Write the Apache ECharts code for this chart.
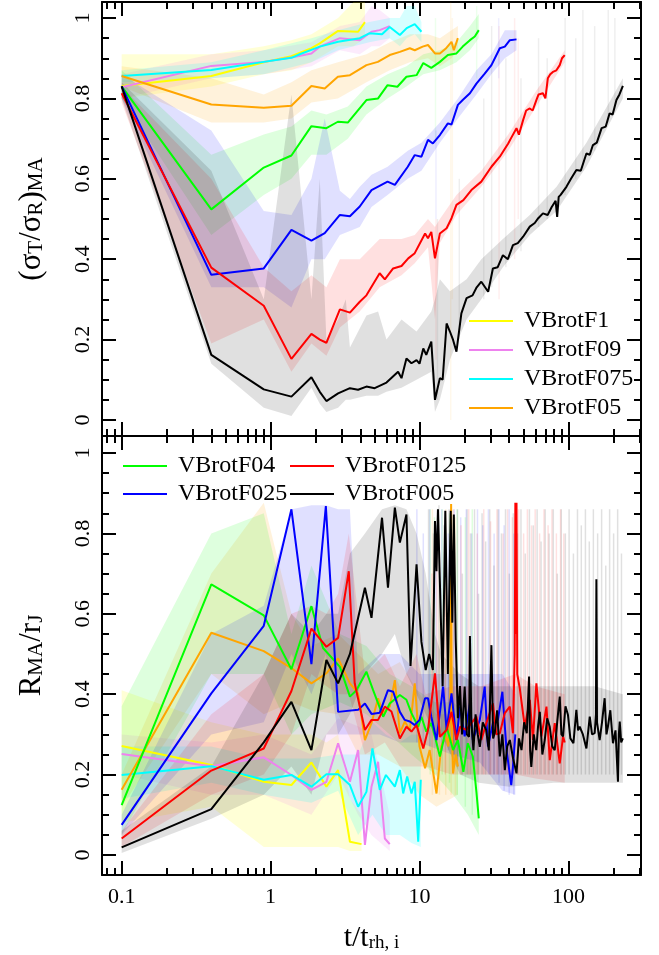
<!DOCTYPE html>
<html>
<head>
<meta charset="utf-8">
<script src="https://cdn.jsdelivr.net/npm/echarts@6/dist/echarts.min.js"></script>
<style>
  html, body { margin: 0; padding: 0; background: #fff; }
  #chart { width: 659px; height: 955px; }
</style>
</head>
<body>
<div id="chart"></div>
<script>
// x ticks (t / t_rh,i), log axis
var X_MAJOR = [0.1, 1, 10, 100];
var X_MINOR = [0.08, 0.09, 0.2, 0.3, 0.4, 0.5, 0.6, 0.7, 0.8, 0.9, 2, 3, 4, 5, 6, 7, 8, 9,
               20, 30, 40, 50, 60, 70, 80, 90, 200, 300];
var Y_MAJOR = [0, 0.2, 0.4, 0.6, 0.8, 1];
var Y_MINOR = [0.05, 0.1, 0.15, 0.25, 0.3, 0.35, 0.45, 0.5, 0.55, 0.65, 0.7, 0.75, 0.85, 0.9, 0.95];

// ---- top panel: (sigma_T/sigma_R)_MA   lines [t, value]; bands [t, lo, hi]; streaks [t, lo, hi]
var F1_S = [[0.1,0.831],[0.4,0.856],[0.9,0.89],[1.38,0.905],[1.88,0.925],[2.14,0.937],[2.84,0.968],[3.87,0.966],[4.3,0.99]];
var F1_S_band = [[0.1,0.80,0.91],[0.4,0.83,0.91],[0.9,0.86,0.93],[1.38,0.87,0.945],[1.88,0.89,0.96],[2.84,0.93,1.0],[3.6,0.93,1.04],[4.3,0.95,1.04]];

var F09_S = [[0.1,0.828],[0.4,0.881],[0.9,0.891],[1.38,0.902],[1.88,0.912],[2.14,0.929],[2.92,0.95],[3.97,0.945],[4.76,0.966],[5.4,0.97],[6.31,0.98]];
var F09_S_band = [[0.1,0.8,0.86],[0.4,0.85,0.91],[0.9,0.86,0.92],[1.88,0.88,0.94],[2.92,0.92,0.98],[3.97,0.91,0.99],[4.76,0.93,1.03],[5.4,0.93,1.02],[6.31,0.95,1.0]];

var F075_S = [[0.1,0.856],[0.4,0.871],[0.9,0.891],[1.38,0.901],[1.57,0.91],[2.14,0.929],[2.84,0.941],[3.97,0.95],[4.6,0.962],[5.6,0.96],[6.31,0.978],[7.38,0.958],[8.2,0.975],[9.29,0.985],[10.3,0.966]];
var F075_S_band = [[0.1,0.84,0.87],[0.4,0.85,0.89],[0.9,0.86,0.92],[1.88,0.89,0.95],[2.84,0.92,0.97],[4.6,0.94,0.99],[6.31,0.95,1.0],[7.38,0.93,1.0],[8.2,0.95,1.03],[9.29,0.96,1.03],[10.3,0.94,0.99]];

var F05_S = [[0.1,0.856],[0.4,0.785],[0.9,0.777],[1.38,0.782],[1.88,0.831],[2.31,0.825],[2.83,0.854],[3.41,0.858],[4.4,0.883],[5.25,0.891],[6.31,0.908],[7.38,0.916],[8.61,0.925],[9.29,0.92],[10.5,0.929],[11.4,0.933],[12.7,0.912],[13.7,0.912],[15.1,0.925],[16.4,0.941],[17.0,0.92],[18.1,0.95]];
var F05_S_band = [[0.1,0.83,0.88],[0.4,0.74,0.85],[0.9,0.74,0.81],[1.38,0.75,0.84],[1.88,0.79,0.87],[2.83,0.8,0.89],[4.4,0.84,0.91],[6.31,0.87,0.94],[8.61,0.89,0.96],[11.4,0.9,0.96],[13.7,0.88,0.95],[16.4,0.9,0.97],[18.1,0.92,0.98]];
var F05_S_streaks = [[16.2,0.0,1.04],[16.6,0.3,1.0]];

var F04_S = [[0.1,0.83],[0.4,0.524],[0.9,0.628],[1.38,0.658],[1.88,0.731],[2.37,0.726],[2.83,0.742],[3.3,0.74],[4.4,0.796],[5.27,0.8],[6.1,0.833],[7.1,0.829],[8.17,0.854],[9.55,0.858],[10.6,0.888],[12.0,0.876],[13.7,0.891],[15.5,0.908],[17.7,0.912],[19.5,0.929],[21.8,0.945],[23.5,0.954],[25,0.97]];
var F04_S_band = [[0.1,0.8,0.87],[0.4,0.46,0.66],[0.9,0.56,0.71],[1.38,0.6,0.73],[1.88,0.66,0.77],[2.37,0.66,0.76],[3.3,0.7,0.78],[4.4,0.76,0.83],[6.1,0.8,0.86],[8.17,0.83,0.88],[10.6,0.86,0.91],[13.7,0.87,0.92],[17.7,0.89,0.94],[21.8,0.92,0.98],[25,0.95,1.01]];
var F04_S_streaks = [[12.8,0.7,1.0],[24.2,0.85,1.03]];

var F025_S = [[0.1,0.83],[0.4,0.361],[0.9,0.377],[1.38,0.473],[1.88,0.446],[2.31,0.465],[2.92,0.51],[3.41,0.507],[3.97,0.531],[4.76,0.572],[5.55,0.585],[6.1,0.593],[6.83,0.585],[8.34,0.63],[9.29,0.659],[10.3,0.655],[11.4,0.697],[12.3,0.688],[13.7,0.709],[15.5,0.738],[16.4,0.735],[18.1,0.784],[19.5,0.796],[21.8,0.813],[24.1,0.837],[27.4,0.862],[30.4,0.883],[34.6,0.925],[37.4,0.929],[40.4,0.945],[44.8,0.947]];
var F025_S_band = [[0.1,0.8,0.86],[0.4,0.33,0.72],[0.9,0.33,0.52],[1.38,0.28,0.51],[1.88,0.4,0.6],[2.31,0.4,0.75],[2.92,0.46,0.57],[3.41,0.47,0.55],[3.97,0.48,0.58],[4.76,0.53,0.61],[6.1,0.56,0.63],[8.34,0.6,0.67],[10.3,0.62,0.69],[13.7,0.69,0.74],[18.1,0.75,0.8],[24.1,0.81,0.87],[30.4,0.86,0.91],[37.4,0.9,0.97],[44.8,0.92,0.97]];
var F025_S_streaks = [[12.9,0.5,0.72],[34.0,0.85,1.0]];

var F0125_S = [[0.1,0.813],[0.4,0.379],[0.9,0.284],[1.38,0.152],[1.88,0.214],[2.14,0.2],[2.37,0.192],[2.92,0.275],[3.41,0.267],[3.97,0.294],[4.4,0.31],[5.4,0.365],[5.85,0.35],[6.65,0.377],[7.57,0.383],[8.4,0.402],[9.29,0.415],[10.9,0.464],[11.4,0.452],[12.0,0.468],[12.7,0.402],[13.7,0.464],[15.2,0.477],[16.4,0.502],[17.7,0.535],[19.7,0.547],[22.3,0.572],[26.0,0.593],[30.4,0.63],[34.6,0.655],[39.4,0.688],[41,0.70],[44.8,0.726],[46.5,0.71],[49.6,0.746],[52,0.77],[55,0.775],[57.5,0.77],[60.9,0.796],[63,0.81],[67.4,0.813],[70,0.80],[72.7,0.85],[75.5,0.86],[78.6,0.866],[83,0.87],[87.4,0.883],[90.5,0.9],[94.4,0.908]];
var F0125_S_band = [[0.1,0.79,0.83],[0.4,0.19,0.6],[0.9,0.25,0.38],[1.38,0.12,0.32],[1.88,0.19,0.36],[2.37,0.16,0.33],[2.92,0.23,0.4],[3.97,0.27,0.4],[5.4,0.33,0.45],[7.57,0.36,0.45],[9.29,0.39,0.46],[11.4,0.43,0.5],[12.7,0.25,0.48],[13.7,0.44,0.5],[17.7,0.51,0.56],[26,0.58,0.62],[39.4,0.67,0.71],[60.9,0.78,0.82],[94.4,0.89,0.92]];
var F0125_S_streaks = [[12.9,0.15,0.5],[34.2,0.3,0.98],[43.5,0.4,1.0],[46.0,0.5,0.95]];

var F005_S = [[0.1,0.83],[0.4,0.162],[0.9,0.076],[1.38,0.058],[1.88,0.106],[2.14,0.07],[2.37,0.047],[2.84,0.066],[3.41,0.079],[3.87,0.075],[4.4,0.083],[5.0,0.079],[6.0,0.093],[7.18,0.12],[7.57,0.104],[8.17,0.153],[8.83,0.141],[9.55,0.149],[10.0,0.14],[10.6,0.178],[11.1,0.162],[12.0,0.195],[12.7,0.05],[13.7,0.104],[14.3,0.1],[15.2,0.24],[16.0,0.22],[16.8,0.199],[17.7,0.17],[19.1,0.265],[20.7,0.303],[22.7,0.31],[24.2,0.33],[26.0,0.344],[28.9,0.319],[31.1,0.377],[33.5,0.38],[36.3,0.41],[39.2,0.40],[42.4,0.435],[45.7,0.44],[49.6,0.456],[55,0.481],[59.4,0.49],[62.7,0.502],[67.4,0.514],[72.5,0.51],[77.2,0.53],[82,0.545],[84,0.505],[86,0.555],[88.6,0.56],[96.9,0.58],[104,0.6],[113,0.622],[121,0.62],[132,0.663],[139,0.66],[146,0.684],[155,0.69],[167,0.726],[178,0.73],[189,0.763],[198,0.76],[210,0.796],[220,0.81],[232,0.831]];
var F005_S_band = [[0.1,0.8,0.84],[0.4,0.14,0.62],[0.9,0.03,0.3],[1.38,0.01,0.81],[1.88,0.08,0.3],[2.14,0.04,0.6],[2.37,0.02,0.2],[2.84,0.03,0.25],[3.2,0.05,0.3],[3.41,0.05,0.18],[4.4,0.06,0.26],[5.27,0.06,0.27],[6.0,0.07,0.2],[7.57,0.08,0.25],[9.55,0.1,0.22],[12.0,0.12,0.27],[12.7,0.02,0.3],[13.7,0.05,0.35],[16,0.15,0.32],[20.7,0.25,0.35],[26,0.3,0.4],[36.3,0.38,0.45],[55,0.46,0.51],[83.2,0.52,0.58],[132,0.63,0.69],[232,0.8,0.85]];
var F005_S_streaks = [[13.2,0.05,0.5],[18.5,0.2,0.6],[27,0.3,0.8],[30.5,0.33,0.98],[38,0.38,0.9],[48,0.42,0.85],[63,0.48,0.95],[72,0.5,0.9],[95,0.56,1.0],[112,0.6,0.95],[125,0.62,1.02],[150,0.67,0.98],[185,0.74,1.02],[205,0.77,1.0]];

// ---- bottom panel: R_MA / r_J
var F1_R = [[0.1,0.271],[0.4,0.224],[0.9,0.182],[1.38,0.174],[1.88,0.23],[2.37,0.17],[2.84,0.211],[3.41,0.033],[4.08,0.027]];
var F1_R_band = [[0.1,0.08,0.41],[0.4,0.12,0.33],[0.9,0.02,0.3],[1.38,0.02,0.3],[1.88,0.02,0.3],[2.37,0.02,0.28],[2.84,0.02,0.3],[3.41,0.01,0.14],[4.08,0.01,0.1]];

var F09_R = [[0.1,0.251],[0.4,0.221],[0.9,0.243],[1.38,0.199],[1.88,0.162],[2.37,0.182],[2.84,0.278],[3.41,0.182],[3.87,0.261],[4.3,0.025],[4.76,0.17],[5.27,0.232],[5.85,0.041],[6.31,0.027]];
var F09_R_band = [[0.1,0.2,0.3],[0.4,0.15,0.28],[0.9,0.15,0.3],[1.88,0.1,0.25],[2.84,0.2,0.34],[3.87,0.1,0.32],[4.76,0.05,0.3],[6.31,0.01,0.1]];

var F075_R = [[0.1,0.199],[0.4,0.221],[0.9,0.187],[1.38,0.199],[1.88,0.17],[2.37,0.201],[2.84,0.201],[3.41,0.174],[3.87,0.12],[4.4,0.157],[4.83,0.265],[5.41,0.162],[5.95,0.199],[6.83,0.17],[7.38,0.211],[7.77,0.153],[8.26,0.195],[8.83,0.153],[9.29,0.182],[9.8,0.033],[10.2,0.187]];
var F075_R_band = [[0.1,0.14,0.27],[0.4,0.18,0.27],[0.9,0.15,0.24],[1.88,0.13,0.24],[2.84,0.16,0.25],[3.87,0.05,0.25],[4.83,0.1,0.33],[5.95,0.05,0.3],[7.38,0.05,0.28],[8.83,0.03,0.3],[10.2,0.02,0.3]];

var F05_R = [[0.1,0.162],[0.4,0.553],[0.9,0.507],[1.38,0.465],[1.88,0.427],[2.37,0.452],[2.84,0.489],[3.41,0.427],[3.87,0.402],[4.3,0.286],[4.76,0.328],[5.27,0.39],[5.7,0.353],[6.31,0.369],[6.83,0.435],[7.38,0.303],[7.96,0.332],[8.61,0.311],[9.29,0.427],[10.0,0.27],[10.9,0.216],[11.7,0.261],[13.0,0.153],[14.0,0.27],[15.0,0.3],[15.6,0.27],[16.1,0.35],[16.3,0.873],[16.5,0.3],[16.8,0.203],[17.5,0.25],[18.1,0.22]];
var F05_R_band = [[0.1,0.12,0.2],[0.4,0.45,0.7],[0.9,0.35,0.876],[1.38,0.38,0.6],[1.88,0.36,0.52],[2.84,0.35,0.55],[3.87,0.25,0.5],[5.27,0.25,0.45],[7.38,0.22,0.48],[10,0.15,0.4],[13,0.12,0.35],[18.1,0.15,0.35]];
var F05_R_streaks = [[12.2,0.15,0.86],[13.6,0.15,0.8],[15.0,0.15,0.86],[16.3,0.15,0.87],[17.4,0.15,0.84]];

var F04_R = [[0.1,0.124],[0.4,0.673],[0.9,0.596],[1.38,0.462],[1.88,0.619],[2.25,0.515],[2.92,0.468],[3.41,0.394],[3.77,0.41],[4.4,0.456],[4.88,0.41],[5.7,0.344],[6.31,0.377],[7.38,0.398],[8.17,0.386],[8.83,0.353],[9.8,0.319],[10.3,0.344],[11.1,0.307],[12.0,0.328],[12.7,0.294],[13.7,0.245],[15.2,0.319],[16.8,0.261],[18.1,0.286],[19.7,0.207],[21.1,0.278],[22.8,0.245],[24.1,0.157],[25,0.091]];
var F04_R_band = [[0.1,0.05,0.37],[0.4,0.45,0.8],[0.9,0.45,0.85],[1.38,0.3,0.55],[1.88,0.35,0.72],[2.92,0.38,0.55],[4.4,0.35,0.52],[6.31,0.3,0.45],[8.83,0.25,0.42],[12.7,0.2,0.38],[16.8,0.15,0.38],[21.1,0.1,0.35],[25,0.05,0.3]];
var F04_R_streaks = [[11.8,0.2,0.86],[12.6,0.2,0.84],[14.2,0.2,0.86],[15.9,0.18,0.85],[17.9,0.15,0.86],[20.3,0.12,0.84],[22.6,0.1,0.86]];

var F025_R = [[0.1,0.075],[0.4,0.402],[0.9,0.57],[1.38,0.86],[1.88,0.475],[2.35,0.868],[2.84,0.356],[3.87,0.361],[4.3,0.377],[4.76,0.351],[5.41,0.354],[6.14,0.41],[6.66,0.406],[7.38,0.356],[7.96,0.336],[8.61,0.332],[9.29,0.323],[10.0,0.336],[10.9,0.39],[11.4,0.39],[12.0,0.344],[13.0,0.286],[14.4,0.419],[15.2,0.311],[16.4,0.402],[17.7,0.286],[18.7,0.369],[20.1,0.295],[21.8,0.378],[22.8,0.286],[25.4,0.336],[27.4,0.419],[28.8,0.27],[31.1,0.328],[33.6,0.336],[36.0,0.406],[38.4,0.261],[41.3,0.174],[42.4,0.22],[44,0.3]];
var F025_R_band = [[0.1,0.05,0.1],[0.4,0.3,0.55],[0.9,0.33,0.62],[1.38,0.5,0.86],[1.88,0.4,0.87],[2.35,0.5,0.87],[2.84,0.3,0.86],[3.41,0.3,0.86],[3.87,0.3,0.45],[5.41,0.3,0.5],[7.38,0.28,0.5],[10,0.28,0.45],[16.4,0.25,0.45],[25.4,0.23,0.45],[36,0.16,0.45],[44,0.15,0.4]];
var F025_R_streaks = [[9.6,0.28,0.86],[10.6,0.28,0.8],[11.7,0.27,0.86],[12.9,0.27,0.82],[14.1,0.26,0.86],[15.6,0.26,0.8],[17.1,0.25,0.86],[18.9,0.25,0.84],[20.6,0.25,0.86],[22.4,0.24,0.8],[24.5,0.23,0.86],[26.6,0.22,0.82],[29.0,0.2,0.86],[31.7,0.2,0.8],[34.2,0.18,0.86],[37.0,0.16,0.82],[40.0,0.15,0.86],[43.0,0.15,0.8]];

var F0125_R = [[0.1,0.041],[0.4,0.21],[0.9,0.265],[1.38,0.408],[1.88,0.563],[2.37,0.518],[2.84,0.54],[3.35,0.706],[3.67,0.427],[4.3,0.311],[4.76,0.336],[5.27,0.336],[5.85,0.369],[6.48,0.357],[7.38,0.29],[8.17,0.319],[8.83,0.307],[9.55,0.323],[10.6,0.265],[11.4,0.311],[12.7,0.452],[13.7,0.294],[15.2,0.311],[16.4,0.356],[17.7,0.286],[18.7,0.319],[20.6,0.311],[22.3,0.328],[24.1,0.344],[26.0,0.286],[28.1,0.328],[31.1,0.377],[32.8,0.3],[34.6,0.303],[37.4,0.353],[40.4,0.369],[42.4,0.303],[43.6,0.5],[44.0,0.876],[44.4,0.55],[44.8,0.876],[45.3,0.45],[47.1,0.415],[50.9,0.319],[55.0,0.386],[57.8,0.286],[60.9,0.427],[65.8,0.295],[71.2,0.369],[74.9,0.236],[80.9,0.328],[87.4,0.228],[92.0,0.295],[94.4,0.28]];
var F0125_R_band = [[0.1,0.02,0.06],[0.4,0.15,0.35],[0.9,0.2,0.45],[1.38,0.3,0.6],[1.88,0.45,0.62],[2.37,0.42,0.6],[2.84,0.4,0.65],[3.35,0.4,0.8],[4.3,0.25,0.45],[5.85,0.28,0.5],[7.38,0.22,0.42],[9.55,0.22,0.5],[11,0.22,0.4],[16.4,0.2,0.42],[26,0.2,0.42],[44,0.2,0.45],[60,0.19,0.42],[94.4,0.18,0.4]];
var F0125_R_streaks = [[12.1,0.22,0.7],[13.1,0.2,0.8],[14.9,0.2,0.84],[16.9,0.2,0.86],[19.0,0.2,0.82],[21.4,0.2,0.86],[24.4,0.2,0.8],[27.0,0.2,0.86],[30.0,0.2,0.83],[33.1,0.2,0.86],[36.4,0.2,0.8],[39.0,0.2,0.86],[42.0,0.2,0.84],[46.3,0.2,0.86],[50.0,0.2,0.8],[53.0,0.2,0.86],[56.5,0.2,0.82],[59.8,0.2,0.86],[64.0,0.2,0.8],[68.5,0.2,0.86],[73.0,0.2,0.82],[77.5,0.2,0.86],[83.0,0.2,0.8],[88.5,0.2,0.86],[93.0,0.2,0.8]];

var F005_R = [[0.1,0.019],[0.4,0.114],[0.9,0.28],[1.38,0.381],[1.88,0.261],[2.37,0.485],[2.84,0.427],[3.41,0.5],[4.3,0.665],[4.76,0.59],[5.6,0.839],[6.14,0.665],[6.83,0.864],[7.38,0.777],[8.17,0.847],[8.7,0.47],[9.55,0.723],[10.3,0.53],[11.0,0.46],[11.6,0.5],[12.3,0.46],[12.7,0.831],[13.0,0.706],[13.3,0.86],[13.7,0.86],[14.3,0.42],[14.9,0.856],[15.5,0.45],[16.2,0.856],[16.6,0.578],[17.0,0.847],[17.5,0.537],[18.1,0.34],[18.7,0.42],[19.3,0.3],[20.1,0.419],[20.8,0.3],[21.5,0.294],[21.8,0.545],[22.3,0.33],[23.0,0.261],[23.8,0.35],[24.6,0.3],[25.4,0.269],[26.6,0.33],[28.0,0.311],[29.2,0.26],[30.4,0.522],[31.2,0.29],[32.0,0.303],[33.2,0.36],[34.6,0.245],[36.0,0.3],[37.4,0.211],[38.8,0.27],[40.4,0.286],[42.5,0.24],[44.8,0.203],[46.5,0.29],[48.4,0.261],[50.4,0.33],[52.5,0.303],[54.4,0.444],[55.3,0.26],[56.3,0.219],[58.5,0.3],[60.8,0.261],[62.5,0.32],[64.2,0.356],[66.8,0.25],[69.3,0.286],[72,0.34],[74.9,0.319],[77.8,0.27],[80.9,0.261],[84,0.33],[87.4,0.394],[89.7,0.3],[92.0,0.295],[95.5,0.37],[99.3,0.348],[103,0.29],[108,0.278],[113,0.361],[116,0.31],[119,0.319],[125,0.3],[132,0.265],[139,0.344],[144,0.3],[150,0.303],[153,0.35],[154,0.686],[155.5,0.33],[162,0.286],[168,0.33],[175,0.39],[180,0.3],[184,0.319],[191,0.36],[199,0.278],[207,0.31],[215,0.182],[218,0.3],[221,0.332],[226,0.28],[232,0.29]];
var F005_R_band = [[0.1,0.005,0.06],[0.4,0.09,0.22],[0.9,0.15,0.45],[1.38,0.22,0.6],[1.88,0.15,0.55],[2.37,0.3,0.6],[2.84,0.3,0.6],[3.41,0.35,0.75],[4.3,0.45,0.8],[5.6,0.5,0.86],[6.83,0.55,0.87],[8.17,0.45,0.86],[9.55,0.4,0.8],[11,0.35,0.7],[12.7,0.3,0.55],[14,0.3,0.5],[18.7,0.2,0.45],[25,0.18,0.42],[40,0.17,0.42],[80,0.18,0.42],[150,0.18,0.42],[232,0.18,0.4]];
var F005_R_streaks = [[11.5,0.3,0.86],[12.4,0.3,0.8],[13.5,0.3,0.87],[14.6,0.28,0.82],[15.8,0.28,0.86],[16.9,0.25,0.75],[18.0,0.22,0.86],[19.4,0.2,0.7],[20.9,0.2,0.86],[22.0,0.2,0.8],[23.4,0.2,0.86],[24.9,0.2,0.65],[26.3,0.2,0.85],[27.8,0.2,0.78],[29.6,0.2,0.86],[31.6,0.2,0.72],[33.7,0.2,0.86],[35.5,0.2,0.8],[37.8,0.2,0.86],[40.1,0.2,0.7],[42.6,0.2,0.85],[45.5,0.2,0.8],[48.0,0.2,0.86],[51.3,0.2,0.75],[54.7,0.2,0.86],[58.1,0.2,0.82],[61.6,0.2,0.86],[65.5,0.2,0.78],[69.8,0.2,0.86],[74.2,0.2,0.8],[79.1,0.2,0.86],[84.2,0.2,0.7],[89.5,0.2,0.86],[95.3,0.2,0.8],[101,0.2,0.86],[108,0.2,0.75],[115,0.2,0.86],[122,0.2,0.82],[130,0.2,0.86],[138,0.2,0.78],[147,0.2,0.86],[157,0.2,0.8],[167,0.2,0.86],[178,0.2,0.72],[189,0.2,0.86],[201,0.2,0.8],[214,0.2,0.86],[227,0.2,0.75]];

var RUNS = [
  { name: 'VBrotF1',    color: '#ffff00', band: 'rgba(255,255,0,0.16)',   top: F1_S,    topBand: F1_S_band,    bot: F1_R,    botBand: F1_R_band },
  { name: 'VBrotF09',   color: '#ee82ee', band: 'rgba(238,130,238,0.16)', top: F09_S,   topBand: F09_S_band,   bot: F09_R,   botBand: F09_R_band },
  { name: 'VBrotF075',  color: '#00ffff', band: 'rgba(0,255,255,0.16)',   top: F075_S,  topBand: F075_S_band,  bot: F075_R,  botBand: F075_R_band },
  { name: 'VBrotF05',   color: '#ffa500', band: 'rgba(255,165,0,0.14)',   top: F05_S,   topBand: F05_S_band,   bot: F05_R,   botBand: F05_R_band,
    topStreaks: F05_S_streaks, botStreaks: F05_R_streaks },
  { name: 'VBrotF04',   color: '#00ff00', band: 'rgba(0,255,0,0.13)',     top: F04_S,   topBand: F04_S_band,   bot: F04_R,   botBand: F04_R_band,
    topStreaks: F04_S_streaks, botStreaks: F04_R_streaks },
  { name: 'VBrotF025',  color: '#0000ff', band: 'rgba(0,0,255,0.12)',     top: F025_S,  topBand: F025_S_band,  bot: F025_R,  botBand: F025_R_band,
    topStreaks: F025_S_streaks, botStreaks: F025_R_streaks },
  { name: 'VBrotF0125', color: '#ff0000', band: 'rgba(255,0,0,0.12)',     top: F0125_S, topBand: F0125_S_band, bot: F0125_R, botBand: F0125_R_band,
    topStreaks: F0125_S_streaks, botStreaks: F0125_R_streaks },
  { name: 'VBrotF005',  color: '#000000', band: 'rgba(0,0,0,0.12)',       top: F005_S,  topBand: F005_S_band,  bot: F005_R,  botBand: F005_R_band,
    topStreaks: F005_S_streaks, botStreaks: F005_R_streaks }
];

var FONT = 'Liberation Serif';
var LOGMIN = Math.log10(0.0738), LOGMAX = Math.log10(307);
var lg = function (v) { return Math.log10(v); };

function nameStyle(size, sub) {
  return { fontSize: size, fontFamily: FONT, color: '#000',
    rich: { s: { fontSize: sub, fontFamily: FONT, color: '#000', verticalAlign: 'bottom' } } };
}

function xAxesFor(g) {
  var base = { gridIndex: g, type: 'value', min: LOGMIN, max: LOGMAX, splitLine: { show: false }, axisLabel: { show: false } };
  var line = { show: true, onZero: false, lineStyle: { color: '#000', width: 2 } };
  var noline = { show: false, onZero: false };
  var tk = function (vals, len) { return { show: true, inside: true, length: len, customValues: vals.map(lg), lineStyle: { color: '#000', width: 2 } }; };
  var bottomMajor = Object.assign({}, base, { position: 'bottom', axisLine: line, axisTick: tk(X_MAJOR, 14) });
  if (g === 1) {
    bottomMajor.axisLabel = {
      show: true, customValues: X_MAJOR.map(lg), margin: 11, fontSize: 22, fontFamily: FONT, color: '#000',
      formatter: function (v) { return String(parseFloat(Math.pow(10, v).toPrecision(2))); }
    };
    bottomMajor.name = 't/t{s|rh, i}';
    bottomMajor.nameLocation = 'middle';
    bottomMajor.nameGap = 48;
    bottomMajor.nameTextStyle = nameStyle(30, 19);
  }
  return [
    bottomMajor,
    Object.assign({}, base, { position: 'bottom', axisLine: noline, axisTick: tk(X_MINOR, 7) }),
    Object.assign({}, base, { position: 'top', axisLine: line, axisTick: tk(X_MAJOR, 14) }),
    Object.assign({}, base, { position: 'top', axisLine: noline, axisTick: tk(X_MINOR, 7) })
  ];
}

function yAxesFor(g, min, max, name) {
  var base = { gridIndex: g, type: 'value', min: min, max: max, splitLine: { show: false }, axisLabel: { show: false } };
  var line = { show: true, onZero: false, lineStyle: { color: '#000', width: 2 } };
  var noline = { show: false, onZero: false };
  var tk = function (vals, len) { return { show: true, inside: true, length: len, customValues: vals, lineStyle: { color: '#000', width: 2 } }; };
  var leftMajor = Object.assign({}, base, {
    position: 'left', axisLine: line, axisTick: tk(Y_MAJOR, 14),
    axisLabel: { show: true, customValues: Y_MAJOR, rotate: 90, margin: 8, fontSize: 22, fontFamily: FONT, color: '#000',
      formatter: function (v) { return String(v); } },
    name: name, nameLocation: 'middle', nameRotate: 90, nameGap: 55,
    nameTextStyle: nameStyle(31, 21)
  });
  return [
    leftMajor,
    Object.assign({}, base, { position: 'left', axisLine: noline, axisTick: tk(Y_MINOR, 7) }),
    Object.assign({}, base, { position: 'right', axisLine: line, axisTick: tk(Y_MAJOR, 14) }),
    Object.assign({}, base, { position: 'right', axisLine: noline, axisTick: tk(Y_MINOR, 7) })
  ];
}

// shaded spread: polygon through the upper edge then back along the lower edge
function bandSeries(pts, color, g) {
  return {
    type: 'custom', xAxisIndex: g * 4, yAxisIndex: g * 4, silent: true, z: 1, clip: true,
    data: pts.map(function (p) { return [lg(p[0]), p[1], p[2]]; }),
    renderItem: function (params, api) {
      if (params.dataIndex !== 0) return null;
      var up = [], dn = [];
      for (var i = 0; i < pts.length; i++) {
        up.push(api.coord([lg(pts[i][0]), pts[i][2]]));
        dn.unshift(api.coord([lg(pts[i][0]), pts[i][1]]));
      }
      return { type: 'polygon', shape: { points: up.concat(dn) }, style: { fill: color, stroke: null } };
    }
  };
}

// thin vertical spikes of the spread at late times
function streakSeries(pts, color, g, alpha) {
  return {
    type: 'custom', xAxisIndex: g * 4, yAxisIndex: g * 4, silent: true, z: 1, clip: true,
    data: pts.map(function (p) { return [lg(p[0]), p[1], p[2]]; }),
    renderItem: function (params, api) {
      var a = api.coord([api.value(0), api.value(1)]);
      var b = api.coord([api.value(0), api.value(2)]);
      return { type: 'line', shape: { x1: a[0], y1: a[1], x2: b[0], y2: b[1] },
        style: { stroke: color, lineWidth: 1.5, opacity: alpha } };
    }
  };
}

function lineSeries(name, pts, color, g) {
  return {
    type: 'line', name: name, xAxisIndex: g * 4, yAxisIndex: g * 4, z: 3,
    data: pts.map(function (p) { return [lg(p[0]), p[1]]; }),
    symbol: 'none', showSymbol: false, silent: true,
    lineStyle: { color: color, width: 2 }, itemStyle: { color: color },
    emphasis: { disabled: true }
  };
}

var series = [];
RUNS.forEach(function (r) {
  series.push(bandSeries(r.topBand, r.band, 0));
  series.push(bandSeries(r.botBand, r.band, 1));
  if (r.topStreaks) series.push(streakSeries(r.topStreaks, r.band, 0, 0.55));
  if (r.botStreaks) series.push(streakSeries(r.botStreaks, r.band, 1, 1));
});
RUNS.forEach(function (r) {
  series.push(lineSeries(r.name, r.top, r.color, 0));
  series.push(lineSeries(r.name, r.bot, r.color, 1));
});

var legendText = { fontSize: 24, fontFamily: FONT, color: '#000', lineHeight: 26, padding: [0, 0, 0, 6] };
var legendBase = { orient: 'vertical', icon: 'rect', itemWidth: 44, itemHeight: 2, padding: 0, selectedMode: false, textStyle: legendText };

var option = {
  animation: false,
  backgroundColor: '#fff',
  grid: [
    { left: 102, top: 2, width: 539, height: 434, outerBoundsMode: 'none' },
    { left: 102, top: 436, width: 539, height: 439, outerBoundsMode: 'none' }
  ],
  xAxis: xAxesFor(0).concat(xAxesFor(1)),
  yAxis: yAxesFor(0, -0.04, 1.04, '(σ{s|T}/σ{s|R}){s|MA}').concat(yAxesFor(1, -0.0498, 1.0423, 'R{s|MA}/r{s|J}')),
  legend: [
    Object.assign({}, legendBase, { left: 469, top: 308, itemGap: 3, data: ['VBrotF1', 'VBrotF09', 'VBrotF075', 'VBrotF05'] }),
    Object.assign({}, legendBase, { left: 123, top: 453, itemGap: 2, data: ['VBrotF04', 'VBrotF025'] }),
    Object.assign({}, legendBase, { left: 290, top: 453, itemGap: 2, data: ['VBrotF0125', 'VBrotF005'] })
  ],
  series: series
};

var chart = echarts.init(document.getElementById('chart'), null, { renderer: 'canvas' });
chart.setOption(option);
</script>
</body>
</html>
